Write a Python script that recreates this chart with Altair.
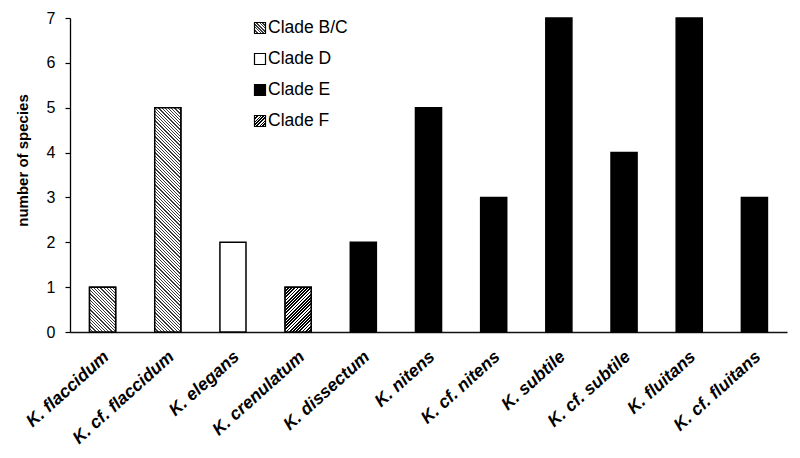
import altair as alt
import pandas as pd

# ---- data ----
species = ["K. flaccidum", "K. cf. flaccidum", "K. elegans", "K. crenulatum", "K. dissectum",
           "K. nitens", "K. cf. nitens", "K. subtile", "K. cf. subtile", "K. fluitans", "K. cf. fluitans"]
counts = [1, 5, 2, 1, 2, 5, 3, 7, 4, 7, 3]
clades = ["Clade B/C", "Clade B/C", "Clade D", "Clade F", "Clade E", "Clade E",
          "Clade E", "Clade E", "Clade E", "Clade E", "Clade E"]
legend_order = ["Clade B/C", "Clade D", "Clade E", "Clade F"]
y_ticks = [0, 1, 2, 3, 4, 5, 6, 7]

df = pd.DataFrame({"species": species, "count": counts, "clade": clades})
legend_df = pd.DataFrame({"clade": legend_order})

# ---- layout / style ----
FONT = "Liberation Sans"
W, H = 717, 314
Y_MAX = 7
PAD_INNER, PAD_OUTER = 0.6, 0.3
step = W / (len(species) - PAD_INNER + 2 * PAD_OUTER)
bar_w = step * (1 - PAD_INNER)

HATCH = {
    "Clade B/C": dict(direction="back", line="#3a3a3a", bg="#ffffff", duty=0.36),
    "Clade F": dict(direction="fwd", line="#000000", bg="#ffffff", duty=0.55),
}
SOLID = {"Clade D": "#ffffff", "Clade E": "#000000"}


def hatch(w, h, direction, line, bg, duty, period=3.2):
    """45-degree stripes as a linear gradient in object-bounding-box units."""
    r = h / w
    a = (1 + r) / (1 + r * r)
    if direction == "back":
        x1, y1, x2, y2 = 0, 1, a, 1 - a * r
    else:
        x1, y1, x2, y2 = 0, 0, a, a * r
    n = (w + h) / period
    dt = 1.0 / n
    stops = []
    k = 0
    while k * dt < 1:
        t0 = round(k * dt, 5)
        t1 = round(min((k + duty) * dt, 1), 5)
        t2 = round(min((k + 1) * dt, 1), 5)
        stops += [alt.GradientStop(offset=t0, color=line),
                  alt.GradientStop(offset=t1, color=line),
                  alt.GradientStop(offset=t1, color=bg),
                  alt.GradientStop(offset=t2, color=bg)]
        k += 1
    return alt.LinearGradient(gradient="linear", stops=stops,
                              x1=round(x1, 5), y1=round(y1, 5), x2=round(x2, 5), y2=round(y2, 5))


X = alt.X("species:N", sort=species,
          scale=alt.Scale(paddingInner=PAD_INNER, paddingOuter=PAD_OUTER),
          axis=alt.Axis(title=None, labelAngle=-42, labelAlign="right", labelBaseline="middle",
                        labelFont=FONT, labelFontSize=17.5, labelFontWeight="bold",
                        labelFontStyle="italic", labelColor="black", labelPadding=22,
                        labelOffset=4,
                        ticks=False, tickSize=0, domainColor="#111111", domainWidth=1.6,
                        labelLimit=300))
Y = alt.Y("count:Q", scale=alt.Scale(domain=[0, Y_MAX], nice=False),
          axis=alt.Axis(values=y_ticks, title="number of species", grid=False,
                        titleFont=FONT, titleFontSize=15, titleFontWeight="bold", titleColor="black",
                        titleX=-48, titleY=142, titleBaseline="middle",
                        labelFont=FONT, labelFontSize=16, labelColor="black", labelPadding=10,
                        tickSize=5, tickColor="black", tickWidth=1.2,
                        domainColor="black", domainWidth=1.3))

base = alt.Chart(df).mark_bar(stroke="black", strokeWidth=1.5).encode(
    x=X, y=Y,
    fill=alt.Fill("clade:N", scale=alt.Scale(domain=legend_order,
                                             range=["#ffffff", "#ffffff", "#000000", "#ffffff"]),
                  legend=None),
)

layers = [base]
for s, c, v in zip(species, clades, counts):
    if c in HATCH:
        h = v / Y_MAX * H
        grad = hatch(bar_w, h, **HATCH[c])
        layers.append(
            alt.Chart(df).transform_filter(alt.datum.species == s)
            .mark_bar(fill=grad, stroke="black", strokeWidth=1.5)
            .encode(x=X, y=Y)
        )

# ---- legend (drawn inside the plot area) ----
LEG_X, LEG_Y0, LEG_DY, SQ = 190, 10, 31, 11
for i, c in enumerate(legend_order):
    if c in HATCH:
        sq_fill = hatch(SQ, SQ, period=3.0, **HATCH[c])
    else:
        sq_fill = SOLID[c]
    layers.append(
        alt.Chart(legend_df).transform_filter(alt.datum.clade == c)
        .mark_square(size=SQ * SQ, fill=sq_fill, stroke="black", strokeWidth=1.2, opacity=1)
        .encode(x=alt.value(LEG_X), y=alt.value(LEG_Y0 + i * LEG_DY))
    )
    layers.append(
        alt.Chart(legend_df).transform_filter(alt.datum.clade == c)
        .mark_text(align="left", baseline="middle", font=FONT, fontSize=17.5, color="black")
        .encode(x=alt.value(LEG_X + 8), y=alt.value(LEG_Y0 + i * LEG_DY), text="clade:N")
    )

chart = alt.layer(*layers).properties(
    width=W, height=H,
    autosize=alt.AutoSizeParams(type="none"),
    padding={"left": 62, "top": 10, "right": 5, "bottom": 120},
    background="white",
).configure_view(stroke=None)

chart.save("out.html", embed_options={"renderer": "svg", "actions": False})
